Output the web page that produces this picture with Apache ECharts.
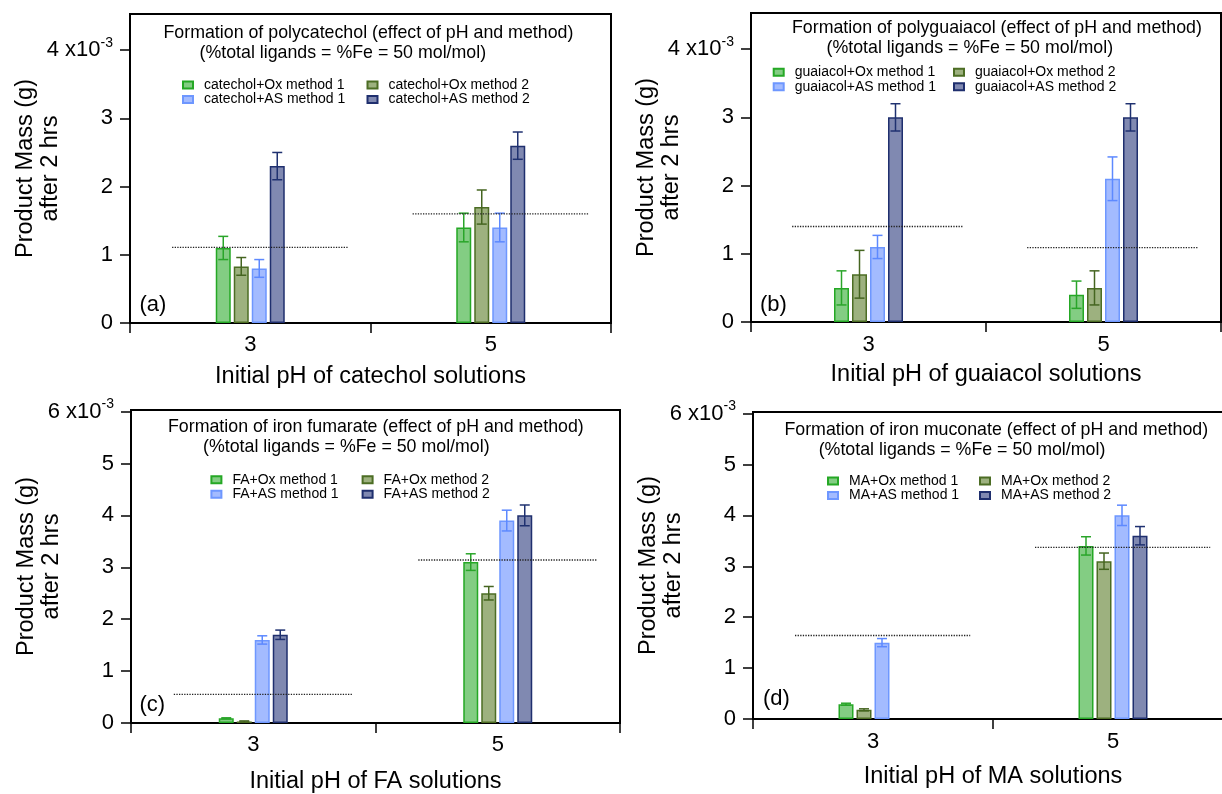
<!DOCTYPE html>
<html>
<head>
<meta charset="utf-8">
<script src="https://cdn.jsdelivr.net/npm/echarts@6/dist/echarts.min.js"></script>
<style>
html, body { margin: 0; padding: 0; background: #fff; }
#main { width: 1222px; height: 794px; }
</style>
</head>
<body>
<div id="main"></div>
<script>
// x categories (initial pH)
var phCats = ['3', '5'];
var methodNames = ['+Ox method 1', '+Ox method 2', '+AS method 1', '+AS method 2'];

// (a) catechol, values in 1e-3 g
var catOx1 = [1.1, 1.4],  catOx1Err = [0.17, 0.21];
var catOx2 = [0.83, 1.7], catOx2Err = [0.13, 0.25];
var catAs1 = [0.8, 1.4],  catAs1Err = [0.13, 0.21];
var catAs2 = [2.3, 2.6],  catAs2Err = [0.2, 0.2];
var catRef = [1.11, 1.6];

// (b) guaiacol
var guaOx1 = [0.5, 0.4], guaOx1Err = [0.25, 0.2];
var guaOx2 = [0.7, 0.5], guaOx2Err = [0.35, 0.25];
var guaAs1 = [1.1, 2.1], guaAs1Err = [0.17, 0.32];
var guaAs2 = [3.0, 3.0], guaAs2Err = [0.2, 0.2];
var guaRef = [1.4, 1.09];

// (c) fumaric acid
var faOx1 = [0.09, 3.1], faOx1Err = [0.01, 0.16];
var faOx2 = [0.03, 2.5], faOx2Err = [0.01, 0.13];
var faAs1 = [1.6, 3.9],  faAs1Err = [0.08, 0.2];
var faAs2 = [1.7, 4.0],  faAs2Err = [0.09, 0.2];
var faRef = [0.55, 3.14];

// (d) muconic acid
var maOx1 = [0.29, 3.4], maOx1Err = [0.02, 0.18];
var maOx2 = [0.18, 3.1], maOx2Err = [0.02, 0.16];
var maAs1 = [1.5, 4.0],  maAs1Err = [0.08, 0.2];
var maAs2 = [null, 3.6], maAs2Err = [null, 0.18];
var maRef = [1.64, 3.37];

var panels = [
  { ligand: 'catechol', vals: [catOx1, catOx2, catAs1, catAs2], errs: [catOx1Err, catOx2Err, catAs1Err, catAs2Err], ref: catRef,
    title: 'Formation of polycatechol (effect of pH and method)', xName: 'Initial pH of catechol solutions', tag: '(a)', yTicks: [0, 1, 2, 3, 4] },
  { ligand: 'guaiacol', vals: [guaOx1, guaOx2, guaAs1, guaAs2], errs: [guaOx1Err, guaOx2Err, guaAs1Err, guaAs2Err], ref: guaRef,
    title: 'Formation of polyguaiacol (effect of pH and method)', xName: 'Initial pH of guaiacol solutions', tag: '(b)', yTicks: [0, 1, 2, 3, 4] },
  { ligand: 'FA', vals: [faOx1, faOx2, faAs1, faAs2], errs: [faOx1Err, faOx2Err, faAs1Err, faAs2Err], ref: faRef,
    title: 'Formation of iron fumarate (effect of pH and method)', xName: 'Initial pH of FA solutions', tag: '(c)', yTicks: [0, 1, 2, 3, 4, 5, 6] },
  { ligand: 'MA', vals: [maOx1, maOx2, maAs1, maAs2], errs: [maOx1Err, maOx2Err, maAs1Err, maAs2Err], ref: maRef,
    title: 'Formation of iron muconate (effect of pH and method)', xName: 'Initial pH of MA solutions', tag: '(d)', yTicks: [0, 1, 2, 3, 4, 5, 6] }
];
var subTitle = '(%total ligands = %Fe = 50 mol/mol)';

// layout of each panel (pixels)
var layout = [
  { grid: { left: 130, top: 14, width: 481, height: 309 }, yMax: 4.53, t1: [163.5, 33], t2: [199.5, 53], leg: [182, 366.5], legY: 85, tag: [139.5, 305], lm: 11, ng: 42 },
  { grid: { left: 751, top: 13, width: 470, height: 309 }, yMax: 4.53, t1: [792, 28], t2: [826.5, 48], leg: [772.7, 953], legY: 72.3, tag: [760, 305], lm: 12, ng: 41 },
  { grid: { left: 131, top: 410, width: 489, height: 313 }, yMax: 6.03, t1: [168, 427], t2: [203, 447], leg: [210.4, 361.6], legY: 479.7, tag: [139.5, 705], lm: 10.5, ng: 47 },
  { grid: { left: 753, top: 412, width: 480, height: 307 }, yMax: 6.03, t1: [784.4, 430], t2: [818.7, 450], leg: [827, 979], legY: 481, tag: [763, 698.7], lm: 12, ng: 46 }
];

var fills   = ['#83cd83', '#9db17f', '#a3bbff', '#8089b1'];
var borders = ['#25a825', '#4c6d24', '#6e97ff', '#1f2f6e'];
var errCols = ['#2aa52a', '#456520', '#5d89ff', '#1f3170'];
var FONT = "'Liberation Sans', Arial, sans-serif";
var BAR_W = 15, BAR_GAP = 3, CAP_W = 10;

function errRender(slot, color) {
  return function (params, api) {
    var v = api.value(1), e = api.value(2);
    if (isNaN(v) || isNaN(e)) return;
    var hi = api.coord([api.value(0), v + e]);
    var lo = api.coord([api.value(0), v - e]);
    var x = hi[0] + (slot - 1.5) * (BAR_W + BAR_GAP);
    var st = { stroke: color, lineWidth: 1.5 };
    return { type: 'group', children: [
      { type: 'line', shape: { x1: x, y1: hi[1], x2: x, y2: lo[1] }, style: st },
      { type: 'line', shape: { x1: x - CAP_W / 2, y1: hi[1], x2: x + CAP_W / 2, y2: hi[1] }, style: st },
      { type: 'line', shape: { x1: x - CAP_W / 2, y1: lo[1], x2: x + CAP_W / 2, y2: lo[1] }, style: st }
    ] };
  };
}

function refRender(params, api) {
  var p = api.coord([api.value(0), api.value(1)]);
  var band = api.size([1, 0])[0];
  return { type: 'line',
    shape: { x1: p[0] - 0.325 * band, y1: p[1], x2: p[0] + 0.405 * band, y2: p[1] },
    style: { stroke: '#222', lineWidth: 1.3, lineDash: [1.3, 1.3] } };
}

var grids = [], xAxes = [], yAxes = [], series = [], legends = [], graphics = [];

panels.forEach(function (pn, i) {
  var L = layout[i];
  var topTick = pn.yTicks[pn.yTicks.length - 1];
  grids.push(Object.assign({ show: true, borderColor: '#000', borderWidth: 2, containLabel: false, outerBoundsMode: 'none' }, L.grid));
  xAxes.push({
    gridIndex: i, type: 'category', data: phCats,
    axisLine: { lineStyle: { color: '#000', width: 2 } },
    axisTick: { show: true, length: 10, lineStyle: { color: '#000', width: 1.5 } },
    axisLabel: { color: '#000', fontSize: 22, fontFamily: FONT, margin: L.lm },
    name: pn.xName, nameLocation: 'middle', nameGap: L.ng,
    nameTextStyle: { color: '#000', fontSize: 23.5, fontFamily: FONT }
  });
  yAxes.push({
    gridIndex: i, type: 'value', min: 0, max: L.yMax,
    axisLine: { show: true, lineStyle: { color: '#000', width: 2 } },
    axisTick: { show: true, length: 10, customValues: pn.yTicks, lineStyle: { color: '#000', width: 1.5 } },
    axisLabel: {
      customValues: pn.yTicks, margin: 17, color: '#000', fontFamily: FONT,
      formatter: function (v) {
        return v === topTick ? '{n|' + v + ' x10}{s|-3}' : '{n|' + v + '}';
      },
      rich: {
        n: { fontSize: 22, fontFamily: FONT, color: '#000' },
        s: { fontSize: 14, fontFamily: FONT, color: '#000', padding: [0, 0, 15, 0] }
      }
    },
    splitLine: { show: false },
    name: 'Product Mass (g)\nafter 2 hrs', nameLocation: 'middle', nameRotate: 90, nameGap: 67,
    nameMoveOverlap: false,
    nameTextStyle: { color: '#000', fontSize: 23.5, lineHeight: 25, fontFamily: FONT }
  });

  var names = methodNames.map(function (m) { return pn.ligand + m; });
  pn.vals.forEach(function (arr, k) {
    series.push({
      type: 'bar', name: names[k], xAxisIndex: i, yAxisIndex: i,
      data: arr, barWidth: BAR_W, barGap: '20%',
      itemStyle: { color: fills[k], borderColor: borders[k], borderWidth: 1.5 },
      emphasis: { disabled: true }
    });
  });
  pn.errs.forEach(function (arr, k) {
    series.push({
      type: 'custom', xAxisIndex: i, yAxisIndex: i, z: 5,
      renderItem: errRender(k, errCols[k]),
      data: arr.map(function (e, c) { return [c, pn.vals[k][c], e]; }),
      silent: true
    });
  });
  series.push({
    type: 'custom', xAxisIndex: i, yAxisIndex: i, z: 6, renderItem: refRender,
    data: pn.ref.map(function (r, c) { return [c, r]; }), silent: true
  });

  // two-column legend: column 1 = method 1, column 2 = method 2
  [[names[0], names[2]], [names[1], names[3]]].forEach(function (col, c) {
    legends.push({
      data: col, orient: 'vertical', left: L.leg[c], top: L.legY - 7.25,
      padding: 0, itemGap: 0, itemWidth: 10, itemHeight: 7, icon: 'rect',
      selectedMode: false,
      textStyle: { fontSize: 14, lineHeight: 14.5, fontFamily: FONT, color: '#000', padding: [0, 0, 0, 6] }
    });
  });

  graphics.push(
    { type: 'text', style: { x: L.t1[0], y: L.t1[1], text: pn.title, fill: '#000', font: '17.8px ' + FONT, verticalAlign: 'middle' } },
    { type: 'text', style: { x: L.t2[0], y: L.t2[1], text: subTitle, fill: '#000', font: '17.8px ' + FONT, verticalAlign: 'middle' } },
    { type: 'text', style: { x: L.tag[0], y: L.tag[1], text: pn.tag, fill: '#000', font: '22px ' + FONT, verticalAlign: 'middle' } }
  );
});

var chart = echarts.init(document.getElementById('main'));
chart.setOption({
  animation: false,
  backgroundColor: '#fff',
  grid: grids,
  xAxis: xAxes,
  yAxis: yAxes,
  legend: legends,
  graphic: graphics,
  series: series
});
</script>
</body>
</html>
